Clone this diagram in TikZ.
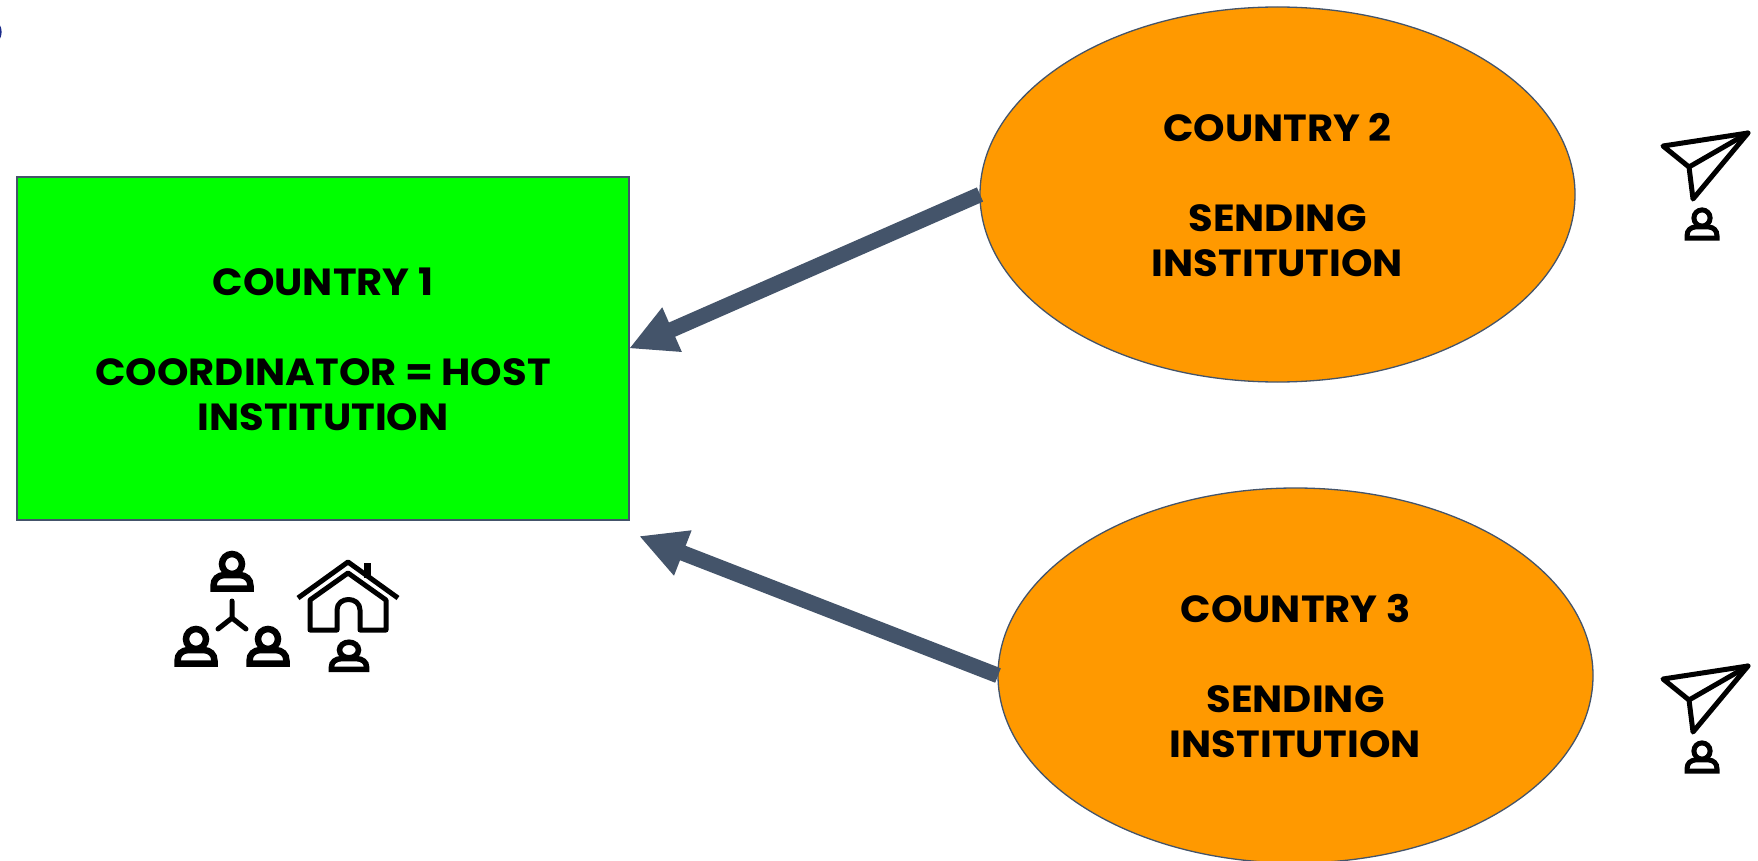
\documentclass[tikz,border=0pt]{standalone}
\usepackage{fontspec}
\setmainfont{Poppins}[FakeStretch=1.06]
\usetikzlibrary{shapes.geometric,arrows.meta}
\definecolor{slateline}{HTML}{44546A}
\definecolor{orangefill}{HTML}{FF9900}
\definecolor{greenfill}{HTML}{00FF00}
\definecolor{navymark}{HTML}{1A2A8A}
\newcommand{\topgap}{\rule{0pt}{29.5pt}}
\tikzset{
  x=1pt,y=-1pt,
  labeltext/.style={font=\fontsize{37.8}{44.8}\selectfont\bfseries,align=center,text=black},
  hostbox/.style={draw=slateline,line width=1.3pt,fill=greenfill,rectangle,minimum width=612pt,minimum height=343pt,inner sep=0pt,outer sep=0pt,labeltext},
  senderoval/.style={draw=slateline,line width=1.3pt,fill=orangefill,ellipse,minimum width=595pt,minimum height=375pt,inner sep=0pt,outer sep=0pt,labeltext},
  bigarrow/.style={draw=slateline,line width=15.5pt,-{Triangle[length=47pt,width=45pt,fill=slateline]},shorten >=0pt},
  icon/.style={draw=black,line width=5pt,line join=round,line cap=round},
  pics/person/.style={code={
    \draw[line cap=butt,line join=miter] (0,0) circle[radius=10];
    \draw[line cap=butt,line join=miter] (-18.5,24.7) -- (18.5,24.7) -- (18.5,22) .. controls (18.5,15) and (14,11.5) .. (8,11) -- (-8,11) .. controls (-14,11.5) and (-18.5,15) .. (-18.5,22) -- cycle;
  }},
  pics/plane/.style={code={
    \draw[icon] (1748,133) -- (1663,146) -- (1689,167) -- (1693,199) -- cycle;
    \draw[icon] (1689,167) -- (1748,133);
  }}
}
\begin{document}
\begin{tikzpicture}
\clip (0,0) rectangle (1758,861);
\fill[white] (0,0) rectangle (1758,861);
\draw[navymark,line width=1.5pt] (-1,25) .. controls (1.5,29) and (1.5,35) .. (-1,39);

\node[hostbox] (host) at (323,348.5) {\topgap COUNTRY 1\\ \\COORDINATOR = HOST\\INSTITUTION};
\node[senderoval] (c2) at (1277.5,194.5) {\topgap COUNTRY 2\\ \\SENDING\\INSTITUTION};
\node[senderoval] (c3) at (1295.5,675.5) {\topgap COUNTRY 3\\ \\SENDING\\INSTITUTION};
\coordinate (hostlow) at (639,536);

\draw[bigarrow] (c2.west) -- (host.east);
\draw[bigarrow] (c3.west) -- (hostlow);

% group icon
\pic[line width=6.5pt] at (232,564) {person};
\pic[line width=6.5pt] at (196,639) {person};
\pic[line width=6.5pt] at (268,639) {person};
\draw[icon] (232,601) -- (232,618) (218,629) -- (232,618) -- (246,629);

% house icon
\draw[icon,line cap=butt] (298,598) -- (348,562) -- (398,598);
\draw[icon,line cap=butt,line width=7pt] (367,563) -- (367,578);
\draw[icon] (310,600) -- (348,573) -- (386,600) -- (386,630) -- (360,630) -- (360,610)
  .. controls (360,596) and (337,596) .. (337,610) -- (337,630) -- (310,630) -- cycle;
\pic[line width=5.5pt,xscale=.95,yscale=.78] at (349,650) {person};

% sending icons
\pic {plane};
\pic[line width=5pt,scale=.81] at (1702,218) {person};
\pic[yshift=-533pt] {plane};
\pic[line width=5pt,scale=.81] at (1702,751) {person};
\end{tikzpicture}
\end{document}
